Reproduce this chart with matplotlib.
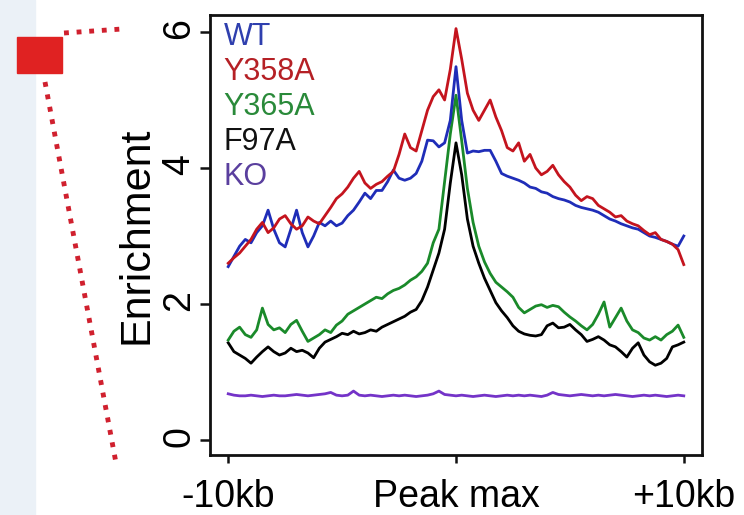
import numpy as np
import matplotlib
matplotlib.use('Agg')
from matplotlib import pyplot as plt
from matplotlib.lines import Line2D
from matplotlib.patches import Rectangle

plt.rcParams['font.family'] = ['Liberation Sans', 'DejaVu Sans']

# distance from peak summit, kb
kb = np.linspace(-10, 10, 81)

wt = [2.55, 2.70, 2.85, 2.95, 2.90, 3.05, 3.15, 3.38, 3.10, 2.90,
      2.84, 3.10, 3.38, 3.05, 2.84, 3.00, 3.20, 3.15, 3.22, 3.15,
      3.19, 3.30, 3.38, 3.50, 3.63, 3.55, 3.67, 3.67, 3.80, 3.97,
      3.85, 3.82, 3.85, 3.92, 4.10, 4.41, 4.40, 4.31, 4.37, 4.70,
      5.49, 4.70, 4.22, 4.25, 4.24, 4.26, 4.26, 4.10, 3.92, 3.88,
      3.85, 3.82, 3.78, 3.72, 3.70, 3.65, 3.63, 3.58, 3.55, 3.53,
      3.50, 3.45, 3.42, 3.40, 3.38, 3.35, 3.30, 3.25, 3.22, 3.18,
      3.15, 3.12, 3.10, 3.05, 3.00, 2.98, 2.95, 2.92, 2.88, 2.85,
      3.00]
y358a = [2.60, 2.68, 2.75, 2.85, 2.95, 3.10, 3.20, 3.05, 3.12, 3.25,
         3.30, 3.18, 3.10, 3.15, 3.28, 3.22, 3.18, 3.30, 3.42, 3.55,
         3.62, 3.72, 3.85, 3.95, 3.78, 3.70, 3.76, 3.80, 3.88, 3.95,
         4.20, 4.50, 4.30, 4.25, 4.55, 4.85, 5.05, 5.15, 5.00, 5.45,
         6.05, 5.60, 5.10, 4.85, 4.70, 4.85, 5.00, 4.75, 4.55, 4.30,
         4.25, 4.37, 4.10, 4.20, 4.00, 3.90, 3.95, 4.04, 3.90, 3.80,
         3.72, 3.60, 3.52, 3.58, 3.55, 3.45, 3.40, 3.35, 3.28, 3.30,
         3.22, 3.18, 3.15, 3.08, 3.02, 3.05, 2.95, 2.92, 2.88, 2.80,
         2.58]
y365a = [1.47, 1.60, 1.66, 1.55, 1.51, 1.62, 1.94, 1.70, 1.62, 1.65,
         1.58, 1.70, 1.76, 1.60, 1.45, 1.50, 1.55, 1.62, 1.58, 1.69,
         1.75, 1.85, 1.90, 1.95, 2.00, 2.05, 2.10, 2.08, 2.15, 2.20,
         2.23, 2.28, 2.35, 2.40, 2.48, 2.60, 2.90, 3.10, 3.80, 4.50,
         5.07, 4.40, 3.70, 3.20, 2.85, 2.62, 2.45, 2.32, 2.25, 2.18,
         2.10, 1.95, 1.87, 1.92, 1.97, 1.99, 1.95, 1.98, 1.96, 1.88,
         1.81, 1.75, 1.68, 1.62, 1.70, 1.85, 2.03, 1.66, 1.80, 1.94,
         1.75, 1.62, 1.58, 1.50, 1.47, 1.52, 1.47, 1.55, 1.60, 1.69,
         1.51]
f97a = [1.43, 1.30, 1.25, 1.20, 1.13, 1.22, 1.30, 1.37, 1.30, 1.25,
        1.28, 1.35, 1.30, 1.32, 1.28, 1.21, 1.35, 1.44, 1.48, 1.52,
        1.57, 1.55, 1.60, 1.56, 1.58, 1.62, 1.60, 1.66, 1.70, 1.74,
        1.78, 1.82, 1.88, 1.92, 2.05, 2.25, 2.50, 2.75, 3.10, 3.78,
        4.37, 3.90, 3.25, 2.85, 2.60, 2.38, 2.20, 2.02, 1.90, 1.80,
        1.68, 1.60, 1.56, 1.54, 1.53, 1.55, 1.68, 1.72, 1.65, 1.66,
        1.70, 1.62, 1.55, 1.45, 1.48, 1.52, 1.47, 1.40, 1.37, 1.30,
        1.22, 1.35, 1.43, 1.25, 1.15, 1.10, 1.13, 1.20, 1.37, 1.40,
        1.44]
ko = [0.68, 0.66, 0.65, 0.65, 0.66, 0.65, 0.64, 0.65, 0.66, 0.65,
      0.65, 0.66, 0.67, 0.66, 0.65, 0.66, 0.67, 0.68, 0.70, 0.66,
      0.65, 0.66, 0.72, 0.66, 0.65, 0.66, 0.65, 0.64, 0.65, 0.66,
      0.65, 0.66, 0.65, 0.64, 0.65, 0.66, 0.68, 0.72, 0.67, 0.66,
      0.65, 0.66, 0.65, 0.64, 0.65, 0.66, 0.65, 0.64, 0.65, 0.66,
      0.65, 0.66, 0.65, 0.66, 0.65, 0.64, 0.66, 0.70, 0.67, 0.66,
      0.65, 0.66, 0.67, 0.66, 0.65, 0.66, 0.65, 0.66, 0.67, 0.66,
      0.65, 0.64, 0.65, 0.66, 0.65, 0.66, 0.65, 0.64, 0.65, 0.66,
      0.65]

names = ['WT', 'Y358A', 'Y365A', 'F97A', 'KO']
series = [wt, y358a, y365a, f97a, ko]
line_colors = ['#1f2db8', '#c4141e', '#1a8a2a', '#000000', '#7433c8']
label_colors = ['#2f3fae', '#b52025', '#2a8a3a', '#111111', '#5a3f9e']
draw_order = [4, 3, 2, 0, 1]

fig = plt.figure(figsize=(7.44, 5.15), dpi=100)

# background strip and zoom marker on the left
fig.patches.append(Rectangle((0, 0), 35 / 744, 1, transform=fig.transFigure,
                             color='#ebf1f7', zorder=0))
fig.patches.append(Rectangle((17 / 744, 1 - 73 / 515), 45 / 744, 36 / 515,
                             transform=fig.transFigure, color='#e02222',
                             zorder=1))
for (x0, y0, x1, y1) in [(64, 33, 122, 29), (45, 82, 116, 463)]:
    fig.lines.append(Line2D([x0 / 744, x1 / 744], [1 - y0 / 515, 1 - y1 / 515],
                            transform=fig.transFigure, color='#d0202e',
                            lw=3.5, linestyle=(0, (1.0, 1.6)),
                            solid_capstyle='butt'))

ax = fig.add_axes([210 / 744, 60 / 515, 492 / 744, 440 / 515])
for i in draw_order:
    ax.plot(kb, series[i], color=line_colors[i], lw=2.0)

ax.set_xlim(-10.8, 10.8)
ax.set_ylim(-0.22, 6.25)
ax.set_xticks([-10, 0, 10])
ax.set_xticklabels(['-10kb', 'Peak max', '+10kb'])
ax.set_yticks([0, 2, 4, 6])
ax.tick_params(axis='both', labelsize=27, width=1.8, color='#111111')
ax.tick_params(axis='x', length=6, pad=11)
ax.tick_params(axis='y', length=7, pad=2, labelrotation=90)
for sp in ax.spines.values():
    sp.set_linewidth(2.0)
    sp.set_color('#111111')

ax.set_ylabel('Enrichment', fontsize=31)
ax.yaxis.set_label_coords(-0.108, 0.5)

for k, name in enumerate(names):
    ax.text(0.028, 0.95 - k * 0.0795, name, transform=ax.transAxes,
            color=label_colors[k], fontsize=22, va='center', ha='left')

plt.savefig('out.png', dpi=100)
